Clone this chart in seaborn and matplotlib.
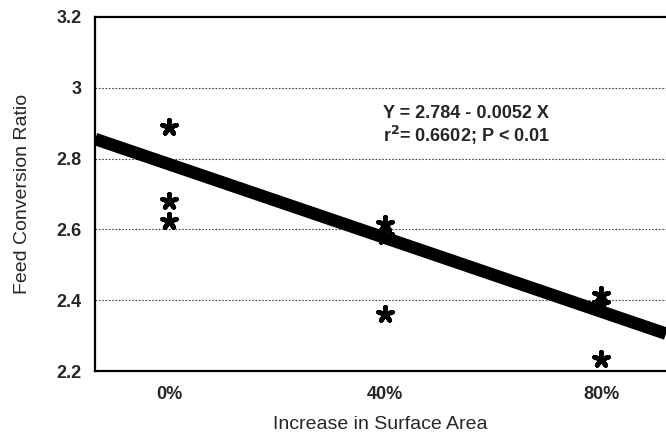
import matplotlib
matplotlib.use("Agg")
import matplotlib.pyplot as plt
import numpy as np
import pandas as pd
import seaborn as sns

# data
surface_increase = [0, 0, 0, 40, 40, 40, 80, 80, 80]
feed_conversion = [2.89, 2.68, 2.625, 2.615, 2.58, 2.36, 2.415, 2.39, 2.235]
intercept = 2.784
slope = -0.0052
x_ticks = [0, 40, 80]
x_tick_labels = ["0%", "40%", "80%"]
y_ticks = [2.2, 2.4, 2.6, 2.8, 3.0, 3.2]
y_tick_labels = ["2.2", "2.4", "2.6", "2.8", "3", "3.2"]

sns.set_style("white")
plt.rcParams["font.family"] = ["Liberation Sans", "DejaVu Sans"]

df = pd.DataFrame({"x": surface_increase, "y": feed_conversion})

fig = plt.figure(figsize=(6.66, 4.34), dpi=100)
ax = fig.add_axes([0.143, 0.145, 0.857, 0.816])

xlim = (-13.7, 92)
line_x = np.array(xlim)
line_df = pd.DataFrame({"x": line_x, "y": intercept + slope * line_x})
sns.lineplot(data=line_df, x="x", y="y", color="black", linewidth=9,
             solid_capstyle="butt", ax=ax)
sns.scatterplot(data=df, x="x", y="y", marker=(5, 2, 0), s=110,
                color="black", edgecolor="black", linewidth=3.4, ax=ax, zorder=5)

ax.set_xlim(*xlim)
ax.set_ylim(2.2, 3.2)
ax.set_xticks(x_ticks)
ax.set_xticklabels(x_tick_labels, fontweight="bold", fontsize=13)
ax.set_yticks(y_ticks)
ax.set_yticklabels(y_tick_labels, fontweight="bold", fontsize=13)
ax.tick_params(axis="y", length=0, pad=10)
ax.tick_params(axis="x", length=0, pad=11)

for yv in y_ticks[1:-1]:
    ax.axhline(yv, color="#444444", linestyle=(0, (1.5, 1.5)), linewidth=0.8, zorder=0)

for side in ["left", "bottom", "top"]:
    ax.spines[side].set_color("black")
    ax.spines[side].set_linewidth(1.6)
ax.spines["right"].set_visible(False)

ax.set_xlabel("Increase in Surface Area", fontsize=14, labelpad=9)
ax.set_ylabel("Feed Conversion Ratio", fontsize=14, labelpad=18)

ax.text(39.5, 2.926, "Y = 2.784 - 0.0052 X", fontsize=13, fontweight="bold",
        va="center", ha="left")
ax.text(39.5, 2.864, "r$^{\\mathbf{2}}$= 0.6602; P < 0.01", fontsize=13,
        fontweight="bold", va="center", ha="left")

fig.savefig("out.png", dpi=100)
